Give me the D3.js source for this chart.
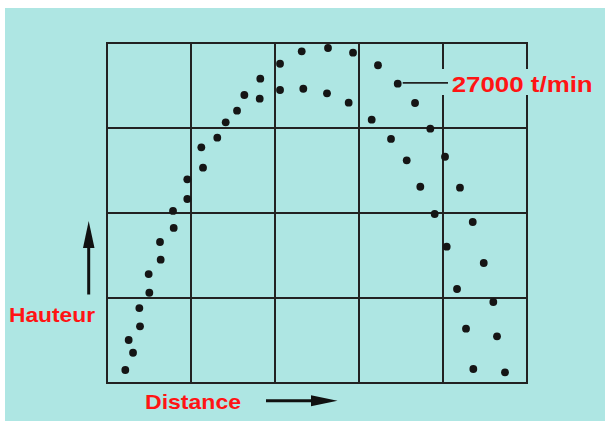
<!DOCTYPE html>
<html>
<head>
<meta charset="utf-8">
<script src="https://cdn.jsdelivr.net/npm/d3@7"></script>
<style>
  html, body { margin: 0; padding: 0; background: #ffffff; }
  svg { display: block; }
</style>
</head>
<body>
<svg id="chart" width="605" height="421"></svg>
<script>
// Trajectoire haute (arc extérieur) : [distance, hauteur]
const trajectoireHaute = [
  [2.58, 5.06], [3.85, 8.82], [4.96, 12.82], [6.31, 16.59], [7.86, 20.24],
  [9.56, 23.96], [11.23, 27.73], [14.13, 30.67], [16.35, 33.88], [18.25, 35.80],
  [20.60, 37.56], [23.18, 39.02], [26.31, 39.41], [29.29, 38.86], [32.26, 37.38],
  [34.61, 35.21], [36.67, 32.94], [38.49, 29.92], [40.24, 26.62], [42.02, 22.98],
  [43.54, 18.94], [44.85, 14.12], [45.99, 9.53], [46.43, 5.49], [47.38, 1.26]
];
// Trajectoire basse (arc intérieur)
const trajectoireBasse = [
  [2.18, 1.53], [3.10, 3.56], [3.93, 6.67], [5.04, 10.62], [6.39, 14.51],
  [7.94, 18.24], [9.56, 21.65], [11.43, 25.33], [13.13, 28.86], [15.48, 32.04],
  [18.18, 33.45], [20.60, 34.47], [23.37, 34.62], [26.19, 34.08], [28.77, 32.98],
  [31.51, 30.98], [33.81, 28.71], [35.68, 26.20], [37.30, 23.09], [39.01, 19.88],
  [40.44, 16.04], [41.67, 11.06], [42.74, 6.39], [43.61, 1.65]
];
const domaineDistance = [0, 50];
const domaineHauteur = [0, 40];
const pointAnnote = [34.61, 35.21];
const texteAnnotation = "27000 t/min";
const titreX = "Distance";
const titreY = "Hauteur";

const svg = d3.select("#chart");
const W = 605, H = 421;

// cyan background with white top/left strip
svg.append("rect").attr("x", 0).attr("y", 0).attr("width", W).attr("height", H).attr("fill", "#ffffff");
svg.append("rect").attr("x", 5).attr("y", 8).attr("width", W - 5).attr("height", H - 8).attr("fill", "#aee6e3");

const x = d3.scaleLinear().domain(domaineDistance).range([107, 527]);
const y = d3.scaleLinear().domain(domaineHauteur).range([383, 43]);

const grid = svg.append("g").attr("stroke", "#222").attr("stroke-width", 2).attr("fill", "none");
x.ticks(5).forEach(t => {
  grid.append("line").attr("x1", x(t)).attr("x2", x(t)).attr("y1", y(domaineHauteur[0]) + 1).attr("y2", y(domaineHauteur[1]) - 1);
});
y.ticks(4).forEach(t => {
  grid.append("line").attr("y1", y(t)).attr("y2", y(t)).attr("x1", x(domaineDistance[0]) - 1).attr("x2", x(domaineDistance[1]) + 1);
});

// label background (breaks the grid lines)
const lx = 451.7, ly = 91.5;
svg.append("rect").attr("x", 441).attr("y", 69).attr("width", 164).attr("height", 26).attr("fill", "#aee6e3");

// points
const pts = svg.append("g").attr("fill", "#151515");
trajectoireHaute.concat(trajectoireBasse).forEach(d => {
  pts.append("circle").attr("cx", x(d[0])).attr("cy", y(d[1])).attr("r", 3.9);
});

// leader line
svg.append("line")
  .attr("x1", x(pointAnnote[0]) + 5).attr("x2", 448)
  .attr("y1", y(pointAnnote[1]) - 0.8).attr("y2", y(pointAnnote[1]) - 0.8)
  .attr("stroke", "#222").attr("stroke-width", 1.6);

const font = "'Liberation Sans', Arial, sans-serif";
const rouge = "#ff1414";
svg.append("text").attr("x", lx).attr("y", ly)
  .attr("font-family", font).attr("font-weight", "bold").attr("font-size", 22)
  .attr("fill", rouge).attr("textLength", 141).attr("lengthAdjust", "spacingAndGlyphs")
  .text(texteAnnotation);

svg.append("text").attr("x", 9).attr("y", 322)
  .attr("font-family", font).attr("font-weight", "bold").attr("font-size", 20.5)
  .attr("fill", rouge).attr("textLength", 86).attr("lengthAdjust", "spacingAndGlyphs")
  .text(titreY);

svg.append("text").attr("x", 145).attr("y", 408.5)
  .attr("font-family", font).attr("font-weight", "bold").attr("font-size", 21)
  .attr("fill", rouge).attr("textLength", 96).attr("lengthAdjust", "spacingAndGlyphs")
  .text(titreX);

// arrows
const ar = svg.append("g").attr("fill", "#111").attr("stroke", "#111");
ar.append("line").attr("x1", 88.7).attr("x2", 88.7).attr("y1", 294.5).attr("y2", 244).attr("stroke-width", 3);
ar.append("path").attr("d", "M88.7,221 L94.5,248 L83,248 Z").attr("stroke", "none");
ar.append("line").attr("x1", 266).attr("x2", 314).attr("y1", 400.7).attr("y2", 400.7).attr("stroke-width", 3);
ar.append("path").attr("d", "M337.5,400.7 L311,395.2 L311,406.2 Z").attr("stroke", "none");
</script>
</body>
</html>
